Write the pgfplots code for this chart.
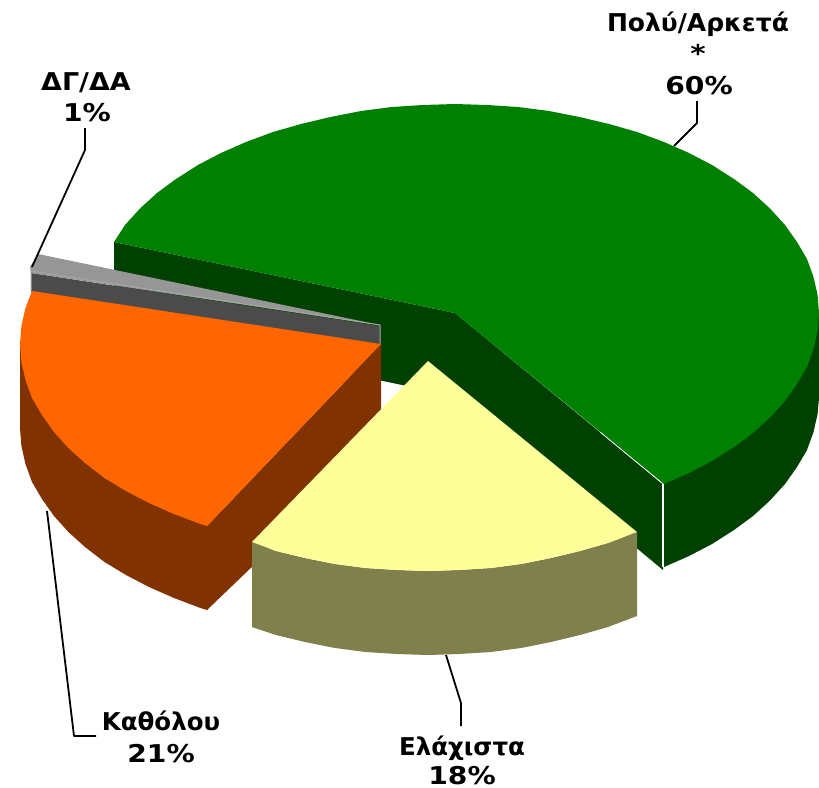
\documentclass[border=0pt]{standalone}
\usepackage{pgfplots}
\pgfplotsset{compat=1.18}
\usepackage{fontspec}
\setmainfont{DejaVu Sans}
\definecolor{gtop}{HTML}{008000}
\definecolor{gside}{HTML}{004000}
\definecolor{otop}{HTML}{FF6600}
\definecolor{oside}{HTML}{803300}
\definecolor{ytop}{HTML}{FFFF99}
\definecolor{yside}{HTML}{80804D}
\definecolor{ktop}{HTML}{969696}
\definecolor{kside}{HTML}{4B4B4B}
\definecolor{kedge}{HTML}{A6A6A6}
\tikzset{lbl/.style={font=\bfseries\fontsize{24.5}{28}\selectfont, anchor=base, inner sep=0pt}}
\newcommand{\wide}[1]{\addfontfeature{FakeStretch=#1}}
\begin{document}
\begin{tikzpicture}
\begin{axis}[
  scale only axis, width=819pt, height=787pt,
  xmin=0, xmax=819, ymin=0, ymax=787, y dir=reverse,
  hide axis, clip=false,
  every axis plot/.append style={no markers, line join=round},
]
\path (axis cs:0,0) rectangle (axis cs:819,787);
% green: sides
\addplot[fill=gside, draw=none] coordinates {(114,242)(455,313)(455,396)(114,325)} --cycle;
\addplot[fill=gside, draw=none] coordinates {(455,313)(663,484)(663,570)(455,397)} --cycle;
\addplot[fill=gside, draw=none] coordinates {(664,484)(819,313)(819,398)(817.6,414)(813.5,432)(807,450)(797,467)(785,484)(770,500.5)(753,516)(734,530)(712,544)(689,556)(664,567)} --cycle;
% green: top
\addplot[fill=gtop, draw=none] coordinates {(114,242)(125,225)(140,208.5)(157,193)(176,179)(198,165)(221,153)(246,142)(273,132)(301,124)(330.5,117)(361,111)(392,107)(423,105)(455,104)(487,105)(518,107)(549,111)(579.5,117)(609,124)(637,132)(664,142)(689,153)(712,165)(734,179)(753,193)(770,208.5)(785,225)(797,242)(807,259)(813.5,277)(817.6,295)(819,313)(817.6,331)(813.5,349)(807,367)(797,384)(785,401)(770,417.5)(753,433)(734,447)(712,461)(689,473)(664,484)(455,313)} --cycle;
\addplot[white, line width=0.7pt] coordinates {(600,432)(663,484)};
\addplot[white, line width=1.5pt] coordinates {(663,484)(663,567)};
% grey slice
\addplot[fill=kside, draw=none] coordinates {(31,273)(380,326)(380,344)(31,292)} --cycle;
\addplot[fill=ktop, draw=none] coordinates {(30,267)(38,254)(380,325)(31,273)} --cycle;
\addplot[kedge, line width=1pt] coordinates {(31,291)(31,271)(380,325)(380,344)};
% orange slice
\addplot[fill=oside, draw=none] coordinates {(381,344)(207,526)(207,610)(381,443)} --cycle;
\addplot[fill=oside, draw=none] coordinates {(20,344)(20,428)(21.4,446)(25.5,464)(32,482)(42,499)(54,516)(68.4,532)(85,547)(104.5,562)(126,575)(149,587)(174,598)(200.5,608)(207,610)(207,526)(104.5,478)} --cycle;
\addplot[fill=otop, draw=none] coordinates {(381,344)(32,291)(25.5,308)(21.4,326)(20,344)(21.4,362)(25.5,380)(32,398)(42,415)(54,432)(68.4,448)(85,463)(104.5,478)(126,491)(149,503)(174,514)(200.5,524)(207,526)} --cycle;
% yellow slice
\addplot[fill=yside, draw=none] coordinates {(252,542)(276,551)(305,558)(335,564)(365.5,568)(397,570)(428,571)(459,570)(491,568)(521,564)(551,558)(580,551)(608,543)(637,532)(637,616)(608,627)(580,635)(551,642)(521,648)(491,652)(459,654)(428,655)(397,654)(365.5,652)(335,648)(305,642)(276,635)(252,627)} --cycle;
\addplot[fill=ytop, draw=none] coordinates {(428,361)(252,542)(276,551)(305,558)(335,564)(365.5,568)(397,570)(428,571)(459,570)(491,568)(521,564)(551,558)(580,551)(608,543)(637,532)} --cycle;
% leader lines
\addplot[black, line width=1.8pt] coordinates {(85,128)(85,150)(32,267)};
\addplot[black, line width=1.8pt] coordinates {(697,101)(697,123)(674,146)};
\addplot[black, line width=1.8pt] coordinates {(96,736)(74,736)(47,511)};
\addplot[black, line width=1.8pt] coordinates {(446,655)(461,703)(461,726)};
% labels
\node[lbl] at (axis cs:698,31) {\wide{1.02}Πολύ/Αρκετά};
\node[lbl] at (axis cs:698,62) {\wide{1.2}*};
\node[lbl] at (axis cs:699,94) {\wide{1.15}60\%};
\node[lbl] at (axis cs:86,90) {\wide{1.1}ΔΓ/ΔΑ};
\node[lbl] at (axis cs:87,121) {\wide{1.15}1\%};
\node[lbl] at (axis cs:161,730) {Καθόλου};
\node[lbl] at (axis cs:161,762) {\wide{1.15}21\%};
\node[lbl] at (axis cs:462,755) {Ελάχιστα};
\node[lbl] at (axis cs:462,784) {\wide{1.15}18\%};
\end{axis}
\end{tikzpicture}
\end{document}
